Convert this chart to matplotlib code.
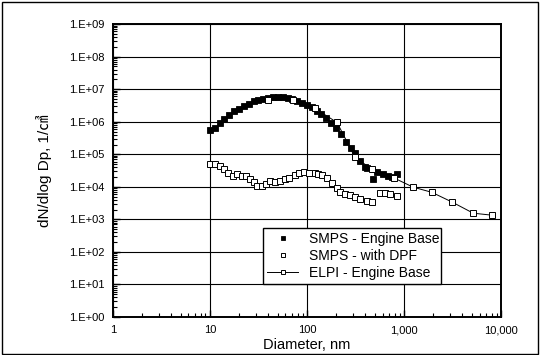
"""Particle size distribution: SMPS / ELPI, engine base vs DPF."""
import matplotlib
matplotlib.use('Agg')
import matplotlib.pyplot as plt
from matplotlib.ticker import FixedLocator, LogLocator, NullFormatter
from matplotlib.patches import Rectangle

plt.rcParams['font.family'] = ['Liberation Sans', 'Noto Sans CJK KR', 'DejaVu Sans']

# SMPS - Engine Base
smps_base_d = [10, 11.2, 12.6, 14.1, 15.8, 17.8, 20, 22.4, 25.1, 28.2, 31.6, 35.5,
               39.8, 44.7, 50.1, 56.2, 63.1, 70.8, 79.4, 89.1, 100, 112, 126, 141,
               158, 178, 200, 224, 251, 282, 316, 355, 398, 420, 480, 530, 600,
               680, 750, 850]
smps_base_n = [5.5e5, 6.6e5, 8.9e5, 1.2e6, 1.6e6, 2.1e6, 2.5e6, 3.0e6, 3.6e6, 4.2e6,
               4.7e6, 5.1e6, 5.5e6, 5.6e6, 5.8e6, 5.6e6, 5.2e6, 4.9e6, 4.4e6, 3.9e6,
               3.3e6, 2.8e6, 2.2e6, 1.7e6, 1.3e6, 9.1e5, 6.3e5, 4.2e5, 2.4e5, 1.6e5,
               1.1e5, 6.3e4, 4.2e4, 3.7e4, 1.8e4, 2.8e4, 2.5e4, 2.2e4, 2.0e4, 2.4e4]

# SMPS - with DPF
smps_dpf_d = [10, 11.3, 12.7, 13.9, 15.3, 17.2, 19, 21.3, 23.5, 25.8, 28.5, 30.5,
              34.3, 37.7, 41.4, 46.6, 52.5, 59, 65, 75, 83, 93, 105, 120, 131, 142,
              160, 181, 204, 218, 246, 277, 312, 350, 412, 466, 560, 640, 720, 850]
smps_dpf_n = [5.0e4, 5.0e4, 4.4e4, 3.5e4, 2.6e4, 2.1e4, 2.5e4, 2.1e4, 2.1e4, 1.7e4,
              1.4e4, 1.05e4, 1.1e4, 1.2e4, 1.5e4, 1.4e4, 1.5e4, 1.8e4, 1.9e4, 2.3e4,
              2.6e4, 2.8e4, 2.6e4, 2.6e4, 2.5e4, 2.3e4, 1.9e4, 1.3e4, 9.1e3, 6.8e3,
              5.9e3, 5.5e3, 4.8e3, 4.2e3, 3.6e3, 3.4e3, 6.3e3, 6.3e3, 5.9e3, 5.1e3]

# ELPI - Engine Base
elpi_d = [40, 72, 120, 204, 312, 466, 780, 1240, 1930, 3130, 5160, 8000]
elpi_n = [4.6e6, 4.6e6, 2.6e6, 9.5e5, 8.1e4, 3.5e4, 1.9e4, 9.8e3, 6.8e3, 3.4e3,
          1.55e3, 1.35e3]

x_ticks = [1, 10, 100, 1000, 10000]
x_labels = ['1', '10', '100', '1,000', '10,000']
y_ticks = [10.0 ** k for k in range(0, 10)]
y_labels = ['1.E+%02d' % k for k in range(0, 10)]

fig = plt.figure(figsize=(5.4, 3.55), dpi=100)
ax = fig.add_axes([0.209, 0.107, 0.719, 0.825])

ax.plot(smps_base_d, smps_base_n, 's', color='black', ms=4.5, mew=0.6,
        label='SMPS - Engine Base', zorder=3)
ax.plot(smps_dpf_d, smps_dpf_n, 's', mfc='white', mec='black', ms=4.5, mew=0.7,
        label='SMPS - with DPF', zorder=3)
ax.plot(elpi_d, elpi_n, '-s', color='black', lw=0.7, mfc='white', mec='black',
        ms=4.5, mew=0.7, label='ELPI - Engine Base', zorder=4)

ax.set_xscale('log')
ax.set_yscale('log')
ax.set_xlim(1, 10000)
ax.set_ylim(1, 1e9)

ax.xaxis.set_major_locator(FixedLocator(x_ticks))
ax.set_xticklabels(x_labels)
ax.yaxis.set_major_locator(FixedLocator(y_ticks))
ax.set_yticklabels(y_labels)
ax.xaxis.set_minor_locator(LogLocator(base=10, subs=range(2, 10), numticks=20))
ax.yaxis.set_minor_locator(LogLocator(base=10, subs=range(2, 10), numticks=20))
ax.xaxis.set_minor_formatter(NullFormatter())
ax.yaxis.set_minor_formatter(NullFormatter())
ax.tick_params(which='major', direction='in', length=5, width=1, labelsize=8)
ax.tick_params(which='minor', direction='in', length=3, width=0.8)
ax.tick_params(axis='x', pad=6)
ax.tick_params(axis='y', pad=6)

ax.grid(which='major', color='black', lw=0.8)
for s in ax.spines.values():
    s.set_linewidth(1.4)

ax.set_xlabel('Diameter, nm', fontsize=10.5, labelpad=2)
ax.set_ylabel('dN/dlog Dp, 1/㎤', fontsize=11, labelpad=12)

leg = ax.legend(loc='lower left', bbox_to_anchor=(0.369, 0.089, 0.494, 0.191),
                mode='expand', fontsize=10, fancybox=False, framealpha=1,
                edgecolor='black', borderpad=0.3, labelspacing=0.2,
                handlelength=2.2, markerscale=0.75)
leg.get_frame().set_linewidth(1.0)

fig.patches.append(Rectangle((0.004, 0.004), 0.992, 0.99, transform=fig.transFigure,
                             fill=False, edgecolor='black', lw=1.0))

fig.savefig('out.png', dpi=100)
